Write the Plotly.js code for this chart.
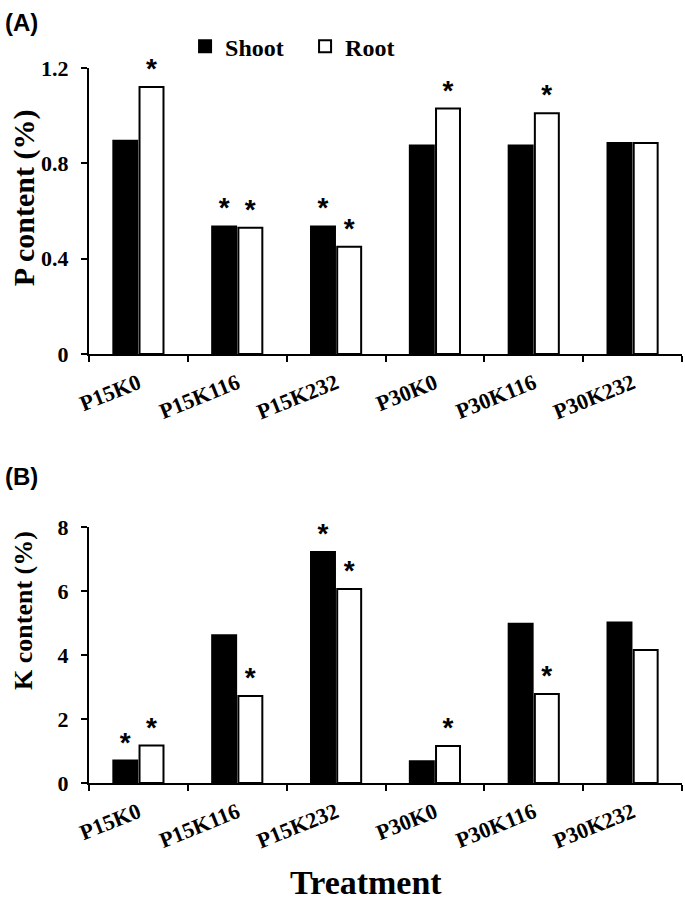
<!DOCTYPE html>
<html>
<head>
<meta charset="utf-8">
<script src="https://cdn.plot.ly/plotly-3.0.1.min.js"></script>
<style>html,body{margin:0;padding:0;background:#fff;}#chart{width:685px;height:910px;}</style>
</head>
<body>
<div id="chart"></div>
<script>
var categories = ['P15K0','P15K116','P15K232','P30K0','P30K116','P30K232'];
var pShoot = [0.895, 0.535, 0.535, 0.875, 0.875, 0.885];
var pRoot = [1.12, 0.53, 0.45, 1.03, 1.01, 0.885];
var pShootSig = ['', '*', '*', '', '', ''];
var pRootSig = ['*', '*', '*', '*', '*', ''];
var kShoot = [0.70, 4.62, 7.22, 0.68, 4.98, 5.02];
var kRoot = [1.17, 2.72, 6.06, 1.16, 2.78, 4.16];
var kShootSig = ['*', '', '*', '', '', ''];
var kRootSig = ['*', '*', '*', '*', '*', ''];
var pTicks = [0, 0.4, 0.8, 1.2];
var kTicks = [0, 2, 4, 6, 8];

var serif = 'Liberation Serif, Times New Roman, serif';
var sans = 'Liberation Sans, Arial, sans-serif';
var starFont = {family: sans, size: 28, color: '#000', weight: 'bold'};

function bar(name, x, y, sig, xa, ya, fill, show) {
  return {
    type: 'bar', name: name, x: x, y: y, xaxis: xa, yaxis: ya,
    text: sig, textposition: 'outside', textfont: starFont, cliponaxis: false,
    marker: {color: fill, line: {color: '#000', width: 2}},
    showlegend: show, hoverinfo: 'skip'
  };
}

var data = [
  bar('Shoot', categories, pShoot, pShootSig, 'x', 'y', '#000', true),
  bar('Root', categories, pRoot, pRootSig, 'x', 'y', '#fff', true),
  bar('Shoot', categories, kShoot, kShootSig, 'x2', 'y2', '#000', false),
  bar('Root', categories, kRoot, kRootSig, 'x2', 'y2', '#fff', false)
];

var tickFont = {family: serif, size: 22, color: '#000', weight: 'bold'};
function xaxis(anchor) {
  return {
    anchor: anchor, domain: [0, 1], type: 'category',
    showline: true, linecolor: '#000', linewidth: 2,
    ticks: 'outside', tickson: 'boundaries', ticklen: 6, tickwidth: 2, tickcolor: '#000',
    ticklabelstandoff: 6,
    tickangle: -22, tickfont: {family: serif, size: 22, color: '#000', weight: 'bold'},
    showgrid: false, zeroline: false, fixedrange: true
  };
}
function yaxis(anchor, dom, rng, vals) {
  return {
    anchor: anchor, domain: dom, range: rng, tickvals: vals,
    showline: true, linecolor: '#000', linewidth: 2,
    ticks: 'outside', ticklen: 6, tickwidth: 2, tickcolor: '#000',
    ticklabelstandoff: 8,
    tickfont: tickFont, showgrid: false, zeroline: false, fixedrange: true
  };
}

function label(text, x, y, size, family, angle, xanchor) {
  return {text: text, xref: 'paper', yref: 'paper', x: x, y: y,
    xanchor: xanchor || 'center', yanchor: 'middle', showarrow: false, textangle: angle || 0,
    font: {family: family, size: size, color: '#000', weight: 'bold'}};
}

var layout = {
  width: 685, height: 910,
  margin: {l: 89, r: 3, t: 68, b: 127},
  paper_bgcolor: '#fff', plot_bgcolor: '#fff',
  barmode: 'group', bargap: 0.47, bargroupgap: 0.085,
  xaxis: xaxis('y'),
  yaxis: yaxis('x', [0.6, 1], [0, 1.2], pTicks),
  xaxis2: xaxis('y2'),
  yaxis2: yaxis('x2', [0, 0.358], [0, 8], kTicks),
  legend: {
    orientation: 'h', x: 0.162, xanchor: 'left', y: 1.03, yanchor: 'middle',
    font: {family: serif, size: 24, color: '#000', weight: 'bold'},
    entrywidth: 75, entrywidthmode: 'pixels', tracegroupgap: 0, bgcolor: 'rgba(0,0,0,0)'
  },
  annotations: [
    label('(A)', -0.145, 1.064, 24, sans, 0, 'left'),
    label('(B)', -0.145, 0.429, 24, sans, 0, 'left'),
    label('P content (%)', -0.1096, 0.818, 30, serif, -90),
    label('K content (%)', -0.1096, 0.2406, 26, serif, -90),
    label('Treatment', 0.467, -0.1385, 34, serif, 0)
  ],
  hovermode: false
};

Plotly.newPlot('chart', data, layout, {displayModeBar: false, staticPlot: true});
</script>
</body>
</html>
